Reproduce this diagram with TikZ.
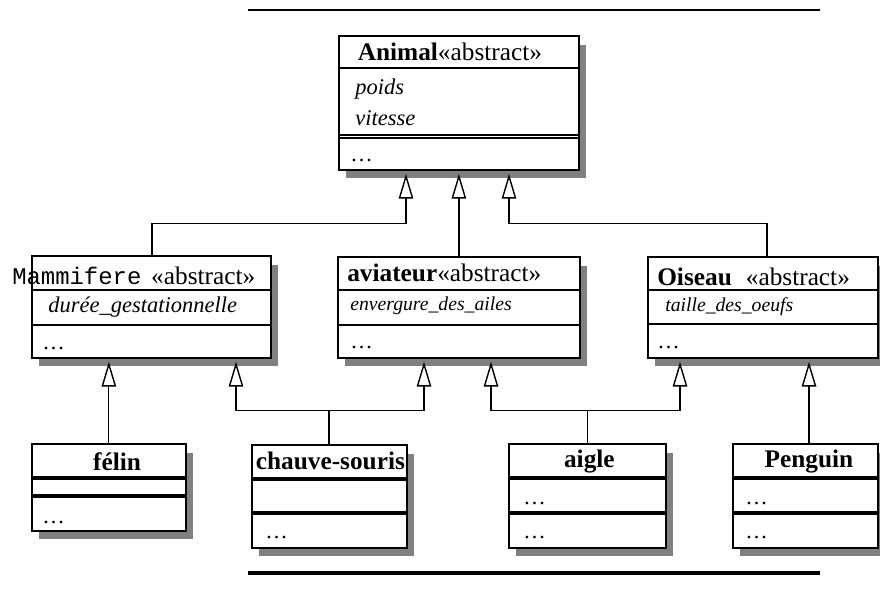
\documentclass[tikz,border=0pt]{standalone}
\usepackage{fontspec}
\setmainfont{Liberation Serif}
\setmonofont{Liberation Mono}
\usetikzlibrary{calc,shapes,arrows.meta,positioning,backgrounds}
\tikzset{
      classbox/.style = {draw, line width=1.2pt, fill=white, anchor=north west, inner sep=0pt},
      shadowbox/.style = {fill=black!50},
      classname/.style = {inner sep=0pt, font=\fontsize{18}{20}\selectfont\bfseries},
      attr/.style = {anchor=west, inner sep=0pt, font=\fontsize{16}{18}\selectfont\itshape},
      small attr/.style = {attr, font=\fontsize{14}{16}\selectfont\itshape},
      dots/.style = {anchor=west, inner sep=0pt, font=\fontsize{16}{18}\selectfont},
      sep/.style = {line width=1pt},
      thick sep/.style = {line width=2.2pt},
      inherit/.style = {line width=0.8pt, -{Triangle[open, length=0.62cm, width=0.36cm, line width=1pt]}},
      inherit thick/.style = {inherit, line width=1.6pt},
    }

\begin{document}
\begin{tikzpicture}[x=0.025cm, y=-0.025cm]
        \useasboundingbox (0,0) rectangle (880,594);
        \draw[line width=1pt] (248,10) -- (820,10);
        \draw[line width=2.2pt] (248,573) -- (820,573);

        % classes
        \node [classbox, minimum width=6cm, minimum height=3.35cm] (animal) at (338,35) {};
        \node [classbox, minimum width=5.975cm, minimum height=2.55cm] (mammifere) at (31,255) {};
        \node [classbox, minimum width=6.05cm, minimum height=2.525cm] (aviateur) at (337,256) {};
        \node [classbox, minimum width=5.75cm, minimum height=2.525cm] (oiseau) at (647,256) {};
        \node [classbox, minimum width=3.85cm, minimum height=2.175cm] (felin) at (31,443) {};
        \node [classbox, minimum width=3.875cm, minimum height=2.575cm] (chauve) at (251,444) {};
        \node [classbox, minimum width=3.925cm, minimum height=2.6cm] (aigle) at (508,443) {};
        \node [classbox, minimum width=3.625cm, minimum height=2.6cm] (penguin) at (732,443) {};

        \begin{scope}[on background layer]
          \foreach \n in {animal, mammifere, aviateur, oiseau, felin, chauve, aigle, penguin}
            \fill[shadowbox] ($(\n.south west)+(8,7)$) rectangle ($(\n.north east)+(6,10)$);
        \end{scope}

        \foreach \n/\d in {animal/33, animal/100, animal/103, mammifere/35, mammifere/70,
                           aviateur/34, aviateur/69, oiseau/34, oiseau/68}
          \draw[sep] ($(\n.north west)+(0,\d)$) -- ($(\n.north east)+(0,\d)$);
        \foreach \n/\d in {felin/35, felin/53, chauve/35, chauve/69,
                           aigle/35, aigle/70, penguin/35, penguin/70}
          \draw[thick sep] ($(\n.north west)+(0,\d)$) -- ($(\n.north east)+(0,\d)$);

        % names
        \node [classname] (animal-name) at ($(animal.north)+(-9,17)$) {Animal\mdseries«abstract»};
        \node [classname, anchor=west] (mammifere-name) at ($(mammifere.north west)+(-19,21)$)
              {\fontsize{17}{20}\selectfont\ttfamily\mdseries Mammifere\hspace{7pt}\fontsize{18}{20}\selectfont\rmfamily«abstract»};
        \node [classname, anchor=west] (aviateur-name) at ($(aviateur.north west)+(10,17)$)
              {aviateur\mdseries«abstract»};
        \node [classname, anchor=west] (oiseau-name) at ($(oiseau.north west)+(10,21)$)
              {Oiseau\hspace{10pt}\mdseries«abstract»};
        \node [classname] (felin-name) at ($(felin.north west)+(86,19)$) {félin};
        \node [classname] (chauve-name) at ($(chauve.north)+(1,17)$) {chauve-souris};
        \node [classname] (aigle-name) at ($(aigle.north)+(2,18)$) {aigle};
        \node [classname] (penguin-name) at ($(penguin.north west)+(77,18)$) {Penguin};

        % attributes and methods
        \node [attr] (poids) at ($(animal.north west)+(17,54)$) {poids};
        \node [attr] (vitesse) at ($(animal.north west)+(17,83)$) {vitesse};
        \node [dots] (animal-ops) at ($(animal.north west)+(12,125)$) {\dots};
        \node [attr] (duree) at ($(mammifere.north west)+(17,52)$) {durée\_gestationnelle};
        \node [dots] (mammifere-ops) at ($(mammifere.north west)+(11,93)$) {\dots};
        \node [small attr] (envergure) at ($(aviateur.north west)+(13,50)$) {envergure\_des\_ailes};
        \node [dots] (aviateur-ops) at ($(aviateur.north west)+(13,91)$) {\dots};
        \node [small attr] (taille) at ($(oiseau.north west)+(18,51)$) {taille\_des\_oeufs};
        \node [dots] (oiseau-ops) at ($(oiseau.north west)+(10,91)$) {\dots};
        \node [dots] (felin-ops) at ($(felin.north west)+(11,79)$) {\dots};
        \node [dots] (chauve-ops) at ($(chauve.north west)+(14,93)$) {\dots};
        \node [dots] (aigle-attr) at ($(aigle.north west)+(15,60)$) {\dots};
        \node [dots] (aigle-ops) at ($(aigle.north west)+(15,94)$) {\dots};
        \node [dots] (penguin-attr) at ($(penguin.north west)+(13,60)$) {\dots};
        \node [dots] (penguin-ops) at ($(penguin.north west)+(13,94)$) {\dots};

        % inheritance
        \coordinate (ta1) at ($(animal.south west)+(68,3)$);
        \coordinate (ta2) at ($(aviateur.north |- animal.south)+(0,3)$);
        \coordinate (ta3) at ($(animal.south west)+(171,3)$);
        \coordinate (tm1) at ($(felin.north |- mammifere.south)+(0,3)$);
        \coordinate (tm2) at ($(mammifere.south west)+(205,3)$);
        \coordinate (tv1) at ($(aviateur.south west)+(87,3)$);
        \coordinate (tv2) at ($(aviateur.south west)+(154,3)$);
        \coordinate (to1) at ($(oiseau.south west)+(33,3)$);
        \coordinate (to2) at ($(oiseau.south west)+(162,3)$);

        \draw[inherit] ($(mammifere.north west)+(121,0)$) |- ($(ta1)+(0,50)$) -- (ta1);
        \draw[inherit thick] (aviateur.north) -- (ta2);
        \draw[inherit] ($(oiseau.north west)+(120,0)$) |- ($(ta3)+(0,50)$) -- (ta3);
        \draw[inherit] (felin.north) -- (tm1);
        \draw[inherit] (chauve.north) |- ($(tm2)+(0,49)$) -- (tm2);
        \draw[inherit] (chauve.north) |- ($(tv1)+(0,49)$) -- (tv1);
        \draw[inherit] (aigle.north) |- ($(tv2)+(0,49)$) -- (tv2);
        \draw[inherit] (aigle.north) |- ($(to1)+(0,49)$) -- (to1);
        \draw[inherit thick] ($(penguin.north west)+(77,0)$) -- (to2);
        \draw[line width=1.6pt] (chauve.north) -- ++(0,-34);
    \end{tikzpicture}
\end{document}
